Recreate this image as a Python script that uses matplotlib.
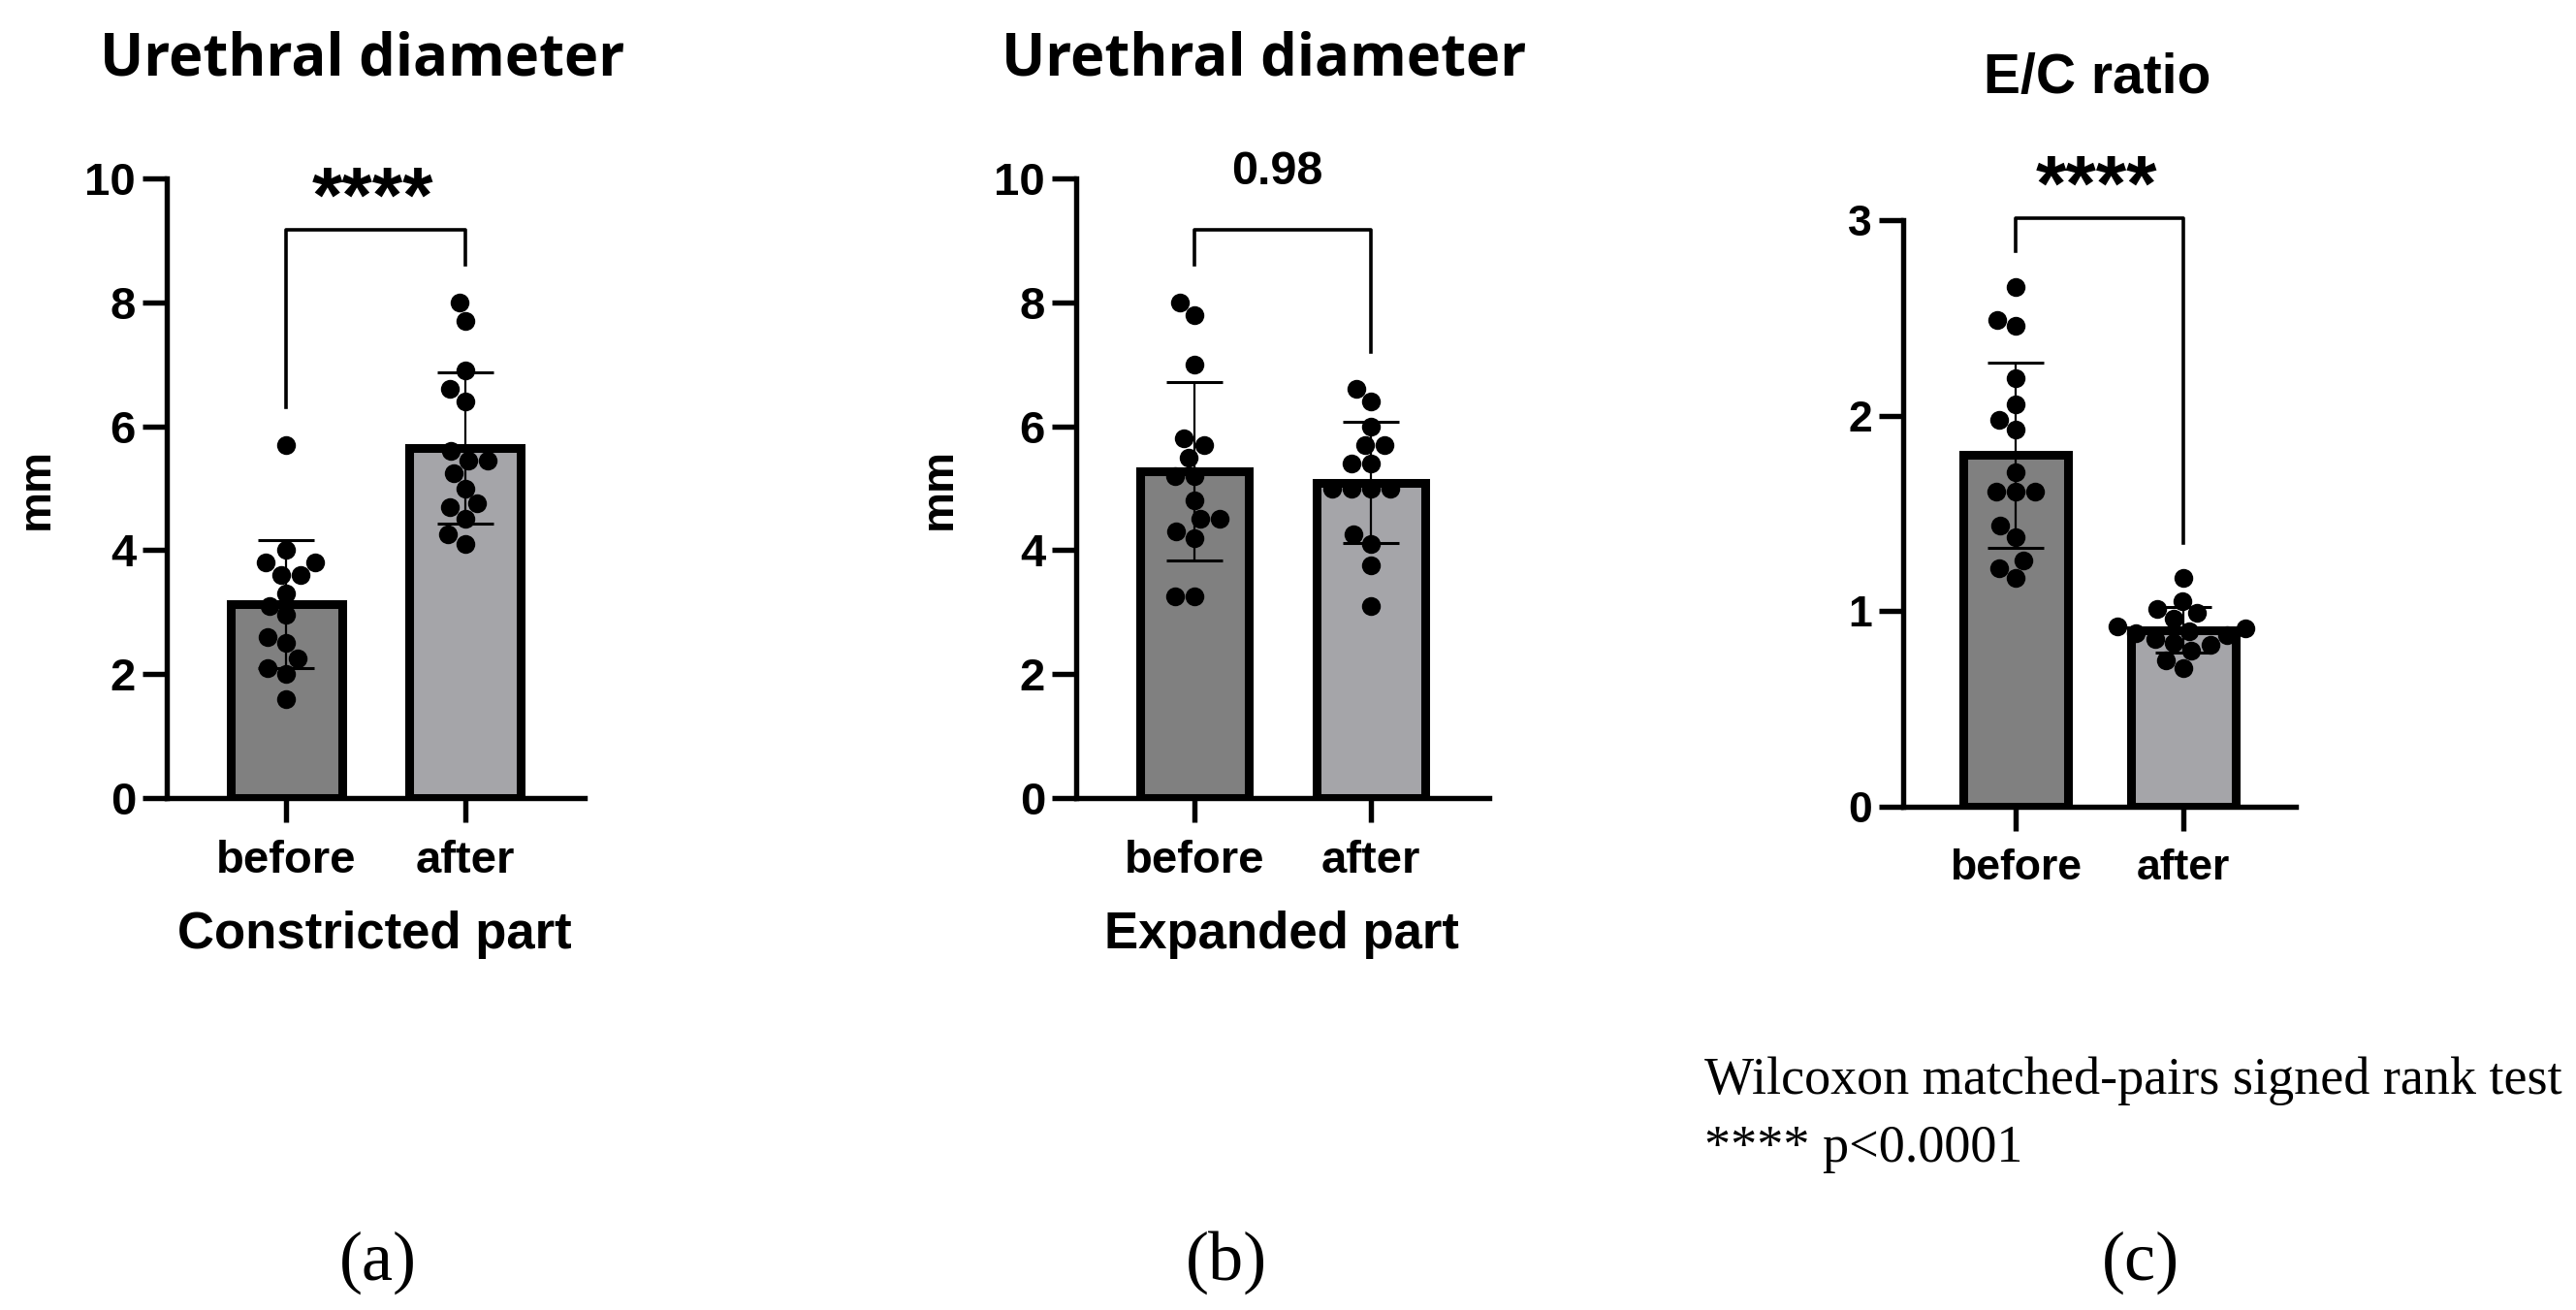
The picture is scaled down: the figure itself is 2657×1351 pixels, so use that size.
import numpy as np
import matplotlib.pyplot as plt

plt.rcParams['font.family'] = ['Liberation Sans', 'DejaVu Sans']
plt.rcParams['font.weight'] = 'bold'
plt.rcParams['axes.linewidth'] = 3.9

# -------------------------------------------------
# Data
# -------------------------------------------------
groups = ["before", "after"]

constricted_before = [5.7, 3.8, 3.8, 4.0, 3.6, 3.6, 3.3, 3.1, 2.95, 2.6, 2.5, 2.25, 2.1, 2.0, 1.6]
constricted_after = [8.0, 7.7, 6.9, 6.6, 6.4, 5.6, 5.45, 5.45, 5.25, 5.0, 4.75, 4.7, 4.5, 4.25, 4.1]

expanded_before = [8.0, 7.8, 7.0, 5.8, 5.7, 5.5, 5.2, 5.2, 4.8, 4.5, 4.5, 4.3, 4.2, 3.25, 3.25]
expanded_after = [6.6, 6.4, 6.0, 5.7, 5.7, 5.4, 5.4, 5.0, 5.0, 5.0, 5.0, 4.25, 4.1, 3.75, 3.1]

ec_before = [2.66, 2.46, 2.49, 2.19, 2.06, 1.98, 1.93, 1.71, 1.61, 1.61, 1.61, 1.44, 1.38, 1.26, 1.22, 1.17]
ec_after = [1.17, 1.05, 1.01, 0.99, 0.96, 0.91, 0.92, 0.88, 0.84, 0.86, 0.83, 0.89, 0.90, 0.80, 0.75, 0.71]

titles = ["Urethral diameter", "Urethral diameter", "E/C ratio"]
xlabels = ["Constricted part", "Expanded part", ""]
p_labels = ["****", "0.98", "****"]
panel_tags = ["(a)", "(b)", "(c)"]

bar_colors = ["#808080", "#a5a5a9"]

W, H = 2657, 1351


def fx(px):
    return px / W


def fy(py):
    return 1 - py / H


def swarm_x(ax, xc, vals, diam):
    # simple beeswarm in pixel space so the dots don't overlap
    tr = ax.transData
    vals = np.asarray(vals, float)
    placed = []
    offs = np.zeros(len(vals))
    for i in np.argsort(vals):
        py = tr.transform((xc, vals[i]))[1]
        cands = [0.0]
        for ox, oy in placed:
            dy = py - oy
            if abs(dy) < diam:
                dx = np.sqrt(diam ** 2 - dy ** 2)
                cands += [ox + dx, ox - dx]
        cands.sort(key=lambda c: (abs(c), c))
        for c in cands:
            if all((c - ox) ** 2 + (py - oy) ** 2 >= diam ** 2 - 1e-6 for ox, oy in placed):
                break
        placed.append((c, py))
        offs[i] = c
    scale = tr.transform((xc + 1, 0))[0] - tr.transform((xc, 0))[0]
    return xc + offs / scale


def draw_panel(ax, before, after, ymax, yticks, p_text, tick_size):
    ax.set_xlim(-0.67, 1.67)
    ax.set_ylim(0, ymax)
    ax.spines["top"].set_visible(False)
    ax.spines["right"].set_visible(False)

    data = [np.asarray(before, float), np.asarray(after, float)]
    means = [d.mean() for d in data]
    sds = [d.std(ddof=1) for d in data]

    ax.bar([0, 1], means, width=0.62, color=bar_colors, edgecolor="black",
           linewidth=6.5, zorder=2)
    for i, d in enumerate(data):
        xs = swarm_x(ax, i, d, 20)
        ax.scatter(xs, d, s=196, color="black", linewidths=0, zorder=3, clip_on=False)
    ax.errorbar([0, 1], means, yerr=sds, fmt="none", ecolor="black",
                elinewidth=1.6, capsize=21, capthick=2.2, zorder=4)

    # significance bracket
    leg = [d.max() + 0.06 * ymax for d in data]
    top = max(leg) + 0.057 * ymax
    ax.plot([0, 0, 1, 1], [leg[0], top, top, leg[1]], color="black", lw=2.6,
            clip_on=False, zorder=5)
    if p_text.startswith("*"):
        ax.annotate(p_text, xy=(0.5, top), xytext=(-2, 6), textcoords="offset points",
                    ha="center", va="baseline", fontsize=58, annotation_clip=False)
    else:
        ax.annotate(p_text, xy=(0.5, top), xytext=(-4, 34), textcoords="offset points",
                    ha="center", va="baseline", fontsize=35, annotation_clip=False)

    ax.set_yticks(yticks)
    ax.set_xticks([0, 1])
    ax.set_xticklabels(groups)
    ax.tick_params(axis="both", width=3.9, length=18, labelsize=tick_size)
    ax.tick_params(axis="y", pad=5)
    ax.tick_params(axis="x", pad=13)


fig = plt.figure(figsize=(W / 100, H / 100), dpi=100)

ax_a = fig.add_axes([fx(172), fy(823), fx(603 - 172), (823 - 184) / H])
ax_b = fig.add_axes([fx(1110), fy(823), fx(1536 - 1110), (823 - 184) / H])
ax_c = fig.add_axes([fx(1963), fy(832), fx(2368 - 1963), (832 - 227) / H])

draw_panel(ax_a, constricted_before, constricted_after, 10, [0, 2, 4, 6, 8, 10], p_labels[0], 34)
draw_panel(ax_b, expanded_before, expanded_after, 10, [0, 2, 4, 6, 8, 10], p_labels[1], 34)
draw_panel(ax_c, ec_before, ec_after, 3, [0, 1, 2, 3], p_labels[2], 32)

# titles
fig.text(fx(374), fy(62), titles[0], ha="center", va="center", fontsize=43,
         fontweight="bold", family=["Open Sans", "DejaVu Sans"])
fig.text(fx(1304), fy(62), titles[1], ha="center", va="center", fontsize=43,
         fontweight="bold", family=["Open Sans", "DejaVu Sans"])
fig.text(fx(2163), fy(96), titles[2], ha="center", va="baseline", fontsize=41,
         fontweight="bold")

# axis labels
fig.text(fx(38), fy(504), "mm", rotation=90, ha="center", va="center", fontsize=34)
fig.text(fx(969), fy(504), "mm", rotation=90, ha="center", va="center", fontsize=34)
fig.text(fx(386), fy(964), xlabels[0], ha="center", va="center", fontsize=38)
fig.text(fx(1322), fy(964), xlabels[1], ha="center", va="center", fontsize=38)

# footnote
serif = ["Liberation Serif", "DejaVu Serif"]
fig.text(fx(1758), fy(1128), "Wilcoxon matched-pairs signed rank test", ha="left",
         va="baseline", fontsize=39, fontweight="normal", family=serif)
fig.text(fx(1758), fy(1198), "**** p<0.0001", ha="left", va="baseline",
         fontsize=39, fontweight="normal", family=serif)

# panel tags
for tag, x in zip(panel_tags, [390, 1265, 2208]):
    fig.text(fx(x), fy(1302), tag, ha="center", va="center", fontsize=52,
             fontweight="normal", family=serif)

fig.savefig("out.png", dpi=100)
